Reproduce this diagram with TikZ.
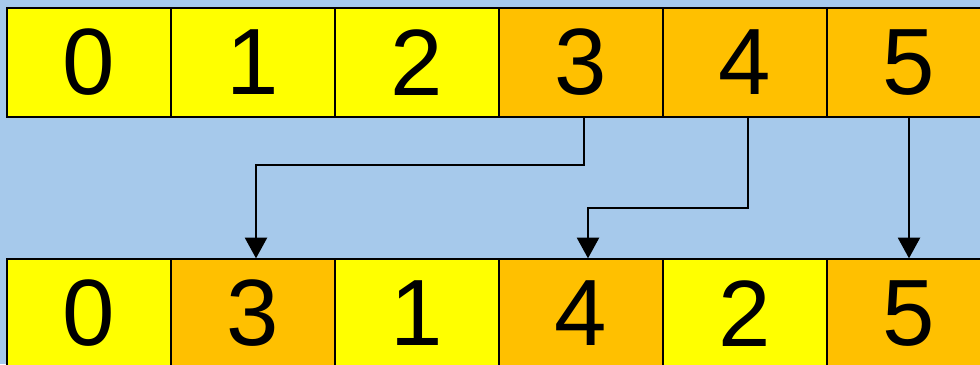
\documentclass[tikz,border=0pt]{standalone}
\usepackage{fontspec}
\setmainfont{Liberation Sans}
\usetikzlibrary{positioning,arrows.meta}
\definecolor{bgblue}{HTML}{A6C9EB}
\definecolor{cellyellow}{HTML}{FFFF00}
\definecolor{cellorange}{HTML}{FFC000}

\begin{document}
\begin{tikzpicture}[x=0.025cm,y=-0.025cm,
  cell/.style={draw=black,line width=0.9pt,minimum width=4.1cm,minimum height=2.725cm,inner sep=0pt,font=\fontsize{67}{67}\selectfont},
  move/.style={line width=1.9pt,-{Triangle[width=0.55cm,length=0.52cm]}}]
\useasboundingbox (0,0) rectangle (980,364);
\fill[bgblue] (0,0) rectangle (980,364);
% top row
\foreach \i/\c in {0/cellyellow,1/cellyellow,2/cellyellow,3/cellorange,4/cellorange,5/cellorange}
  \node[cell,fill=\c] (t\i) at (89+164*\i,62.5) {\i};
% bottom row
\foreach \i/\v/\c in {0/0/cellyellow,1/3/cellorange,2/1/cellyellow,3/4/cellorange,4/2/cellyellow,5/5/cellorange}
  \node[cell,fill=\c] (b\i) at (89+164*\i,313.5) {\v};
\draw[move] ([xshift=0.075cm]t3.south) -- ([xshift=0.075cm]t3.south |- 0,165) -| ([xshift=0.075cm]b1.north);
\draw[move] ([xshift=0.075cm]t4.south) -- ([xshift=0.075cm]t4.south |- 0,208) -| ([xshift=0.175cm]b3.north);
\draw[move] (t5.south) -- (b5.north);
\end{tikzpicture}
\end{document}
